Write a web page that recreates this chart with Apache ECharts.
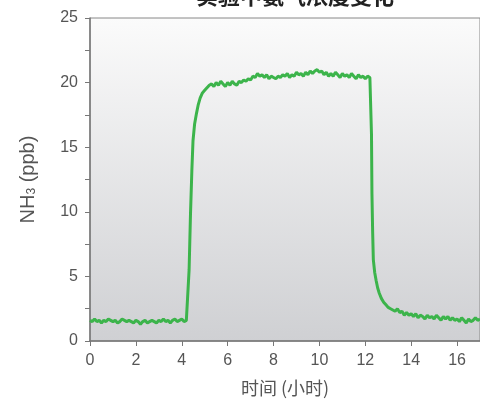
<!DOCTYPE html>
<html>
<head>
<meta charset="utf-8">
<script src="https://cdn.jsdelivr.net/npm/echarts@6/dist/echarts.min.js"></script>
<style>
    html, body { margin: 0; padding: 0; background: #fff; }
    #chart { width: 480px; height: 399px; }
</style>
</head>
<body>
<div id="chart"></div>
<script>
// 时间 (小时)
const hours = [
    0.0, 0.1, 0.2, 0.3, 0.4, 0.5, 0.6, 0.7, 0.8, 0.9,
    1.0, 1.1, 1.2, 1.3, 1.4, 1.5, 1.6, 1.7, 1.8, 1.9,
    2.0, 2.1, 2.2, 2.3, 2.4, 2.5, 2.6, 2.7, 2.8, 2.9,
    3.0, 3.1, 3.2, 3.3, 3.4, 3.5, 3.6, 3.7, 3.8, 3.9,
    4.0, 4.1, 4.2,
    4.27, 4.32, 4.38, 4.44, 4.49, 4.56, 4.64, 4.72, 4.8, 4.9, 5.0, 5.1, 5.2,
    5.3, 5.4, 5.5, 5.6, 5.7, 5.8, 5.9, 6.0, 6.1, 6.2,
    6.3, 6.4, 6.5, 6.6, 6.7, 6.8, 6.9, 7.0, 7.1, 7.2,
    7.3, 7.4, 7.5, 7.6, 7.7, 7.8, 7.9, 8.0, 8.1, 8.2,
    8.3, 8.4, 8.5, 8.6, 8.7, 8.8, 8.9, 9.0, 9.1, 9.2,
    9.3, 9.4, 9.5, 9.6, 9.7, 9.8, 9.9, 10.0, 10.1, 10.2,
    10.3, 10.4, 10.5, 10.6, 10.7, 10.8, 10.9, 11.0, 11.1, 11.2,
    11.3, 11.4, 11.5, 11.6, 11.7, 11.8, 11.9, 12.0, 12.1, 12.2,
    12.25, 12.27, 12.29, 12.32, 12.35, 12.41, 12.47, 12.54, 12.61, 12.7, 12.8, 12.9, 13.0, 13.1, 13.2,
    13.3, 13.4, 13.5, 13.6, 13.7, 13.8, 13.9, 14.0, 14.1, 14.2,
    14.3, 14.4, 14.5, 14.6, 14.7, 14.8, 14.9, 15.0, 15.1, 15.2,
    15.3, 15.4, 15.5, 15.6, 15.7, 15.8, 15.9, 16.0, 16.1, 16.2,
    16.3, 16.4, 16.5, 16.6, 16.7, 16.8, 16.9, 17.0
];

// NH3 (ppb)
const nh3 = [
    1.6, 1.5, 1.7, 1.5, 1.6, 1.4, 1.6, 1.5, 1.7, 1.6,
    1.5, 1.6, 1.4, 1.5, 1.7, 1.6, 1.5, 1.6, 1.5, 1.4,
    1.6, 1.5, 1.3, 1.5, 1.6, 1.4, 1.5, 1.6, 1.5, 1.4,
    1.6, 1.5, 1.7, 1.5, 1.6, 1.4, 1.6, 1.7, 1.5, 1.6,
    1.7, 1.5, 1.6,
    1.7, 5.5, 9.8, 13.2, 15.5, 16.8, 17.6, 18.3, 18.8, 19.2, 19.4, 19.6, 19.8,
    19.9, 19.7, 20.0, 19.8, 20.1, 19.9, 19.7, 20.0, 19.8, 20.1,
    19.9, 19.8, 20.1, 20.0, 20.2, 20.1, 20.3, 20.2, 20.5, 20.4,
    20.7, 20.5, 20.6, 20.4, 20.6, 20.3, 20.5, 20.4, 20.3, 20.5,
    20.4, 20.6, 20.5, 20.7, 20.4, 20.6, 20.5, 20.8, 20.6, 20.7,
    20.5, 20.8, 20.6, 20.9, 20.7, 20.9, 21.0, 20.8, 20.9, 20.6,
    20.8, 20.5, 20.7, 20.5, 20.8, 20.6, 20.4, 20.7, 20.5, 20.6,
    20.4, 20.7, 20.5, 20.3, 20.6, 20.4, 20.5, 20.3, 20.5, 20.4,
    20.3, 16.0, 11.4, 8.5, 6.3, 5.3, 4.7, 4.1, 3.7, 3.3, 3.0, 2.8, 2.6, 2.5, 2.4,
    2.3, 2.5, 2.2, 2.3, 2.0, 2.2, 2.0, 2.1, 1.9, 2.1,
    1.8, 2.0, 1.9, 1.7, 2.0, 1.8, 1.9, 1.7, 2.0, 1.8,
    1.6, 1.9, 1.7, 1.9, 1.6, 1.8, 1.6, 1.7, 1.5, 1.8,
    1.6, 1.4, 1.7, 1.5, 1.6, 1.8, 1.6, 1.7
];

const titleText = '实验中氨气浓度变化';
const xName = '时间 (小时)';

const seriesData = hours.map((h, i) => [h, nh3[i]]);

const labelFont = 'Liberation Sans, Arial, sans-serif';

echarts.init(document.getElementById('chart')).setOption({
    animation: false,
    title: {
        text: titleText,
        left: 290,
        top: -20,
        textAlign: 'center',
        textStyle: {
            fontSize: 22,
            fontWeight: 'bold',
            color: '#222',
            fontFamily: 'Noto Sans CJK SC'
        }
    },
    grid: {
        left: 90,
        top: 18,
        right: 0,
        bottom: 58,
        outerBoundsMode: 'none',
        show: true,
        borderColor: '#888',
        borderWidth: 1,
        backgroundColor: {
            type: 'linear', x: 0, y: 0, x2: 0, y2: 1,
            colorStops: [
                {offset: 0, color: '#fbfbfb'},
                {offset: 1, color: '#cfd0d3'}
            ]
        }
    },
    xAxis: {
        type: 'value',
        min: 0,
        max: 17,
        interval: 2,
        name: xName,
        nameLocation: 'middle',
        nameGap: 38,
        nameTextStyle: {fontSize: 18, color: '#555', fontFamily: 'Noto Sans CJK SC'},
        axisLine: {lineStyle: {color: '#777', width: 1.5}},
        axisTick: {show: true, length: 5, lineStyle: {color: '#777'}},
        axisLabel: {fontSize: 16, color: '#555', margin: 12, fontFamily: labelFont, showMaxLabel: false},
        splitLine: {show: false}
    },
    yAxis: {
        type: 'value',
        min: 0,
        max: 25,
        interval: 5,
        name: 'NH{sub|3} (ppb)',
        nameLocation: 'middle',
        nameGap: 52,
        nameTextStyle: {
            fontSize: 20, color: '#555', fontFamily: labelFont,
            rich: {sub: {fontSize: 12, color: '#555', verticalAlign: 'bottom', padding: [8, 0, 0, 0]}}
        },
        axisLine: {show: true, lineStyle: {color: '#777', width: 1.5}},
        axisTick: {show: true, length: 5, lineStyle: {color: '#777'}},
        minorTick: {show: true, splitNumber: 2, length: 5, lineStyle: {color: '#777'}},
        axisLabel: {fontSize: 16, color: '#555', margin: 12, fontFamily: labelFont},
        splitLine: {show: false}
    },
    series: [
        {
            type: 'line',
            data: seriesData,
            showSymbol: false,
            lineStyle: {color: '#3cb44b', width: 3},
            itemStyle: {color: '#3cb44b'}
        }
    ]
});
</script>
</body>
</html>
